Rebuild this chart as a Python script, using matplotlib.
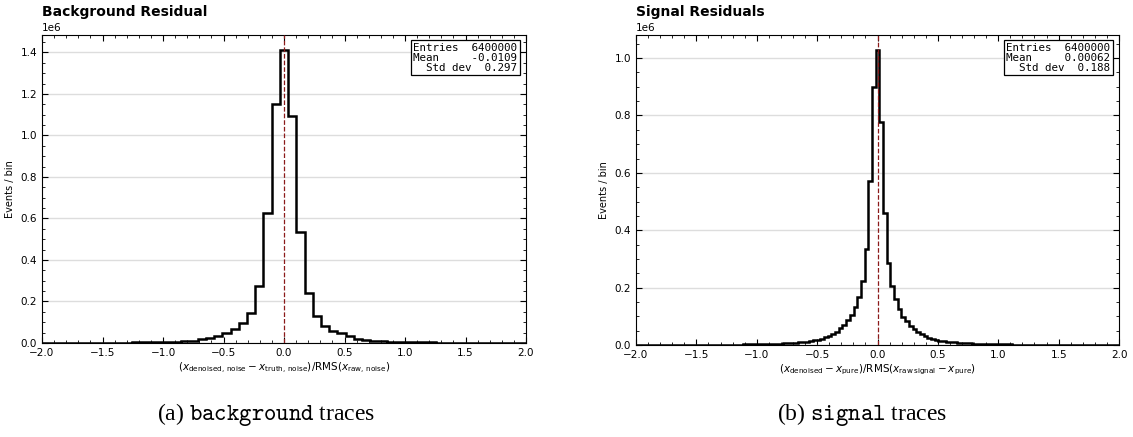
import numpy as np
import matplotlib
matplotlib.use("Agg")
import matplotlib.pyplot as plt
from matplotlib.ticker import AutoMinorLocator, MultipleLocator

# --- data (counts per bin, in millions) ---
# background residual: bins from x=-2 up to the central bin, central bin, then up to x=+2
bg_left = [0.0006, 0.0007, 0.0008, 0.0009, 0.0010, 0.0011, 0.0013, 0.0015, 0.0017, 0.0020,
           0.0023, 0.0027, 0.0032, 0.0038, 0.0045, 0.0055, 0.0070, 0.0090, 0.012, 0.017,
           0.025, 0.036, 0.050, 0.067, 0.094, 0.145, 0.275, 0.626, 1.152]
bg_peak = 1.413
bg_right = [1.093, 0.534, 0.242, 0.132, 0.084, 0.060, 0.046, 0.032, 0.021, 0.014,
            0.010, 0.0078, 0.0062, 0.0050, 0.0041, 0.0034, 0.0029, 0.0025, 0.0021, 0.0018,
            0.0016, 0.0014, 0.0012, 0.0010, 0.0009, 0.0008, 0.0007, 0.0006, 0.0005]

# signal residuals
sig_left = [0.0003, 0.0004, 0.0004, 0.0004, 0.0004, 0.0004, 0.0005, 0.0005, 0.0005, 0.0005,
            0.0006, 0.0006, 0.0006, 0.0007, 0.0007, 0.0007, 0.0008, 0.0008, 0.0009, 0.0009,
            0.0010, 0.0010, 0.0011, 0.0012, 0.0013, 0.0014, 0.0015, 0.0016, 0.0017, 0.0019,
            0.0021, 0.0023, 0.0025, 0.0027, 0.0030, 0.0033, 0.0037, 0.0041, 0.0046, 0.0051,
            0.0057, 0.0064, 0.0072, 0.0082, 0.0093, 0.0105, 0.012, 0.014, 0.016, 0.019,
            0.022, 0.027, 0.031, 0.038, 0.046, 0.058, 0.070, 0.087, 0.104, 0.131,
            0.169, 0.224, 0.334, 0.570, 0.898]
sig_peak = 1.029
sig_right = [0.778, 0.460, 0.287, 0.206, 0.159, 0.125, 0.099, 0.083, 0.067, 0.055,
             0.046, 0.038, 0.031, 0.026, 0.022, 0.018, 0.0155, 0.0135, 0.0115, 0.0100,
             0.0088, 0.0078, 0.0069, 0.0061, 0.0054, 0.0048, 0.0043, 0.0039, 0.0035, 0.0031,
             0.0028, 0.0026, 0.0024, 0.0022, 0.0020, 0.0018, 0.0016, 0.0015, 0.0014, 0.0013,
             0.0012, 0.0011, 0.0010, 0.0010, 0.0009, 0.0009, 0.0008, 0.0008, 0.0007, 0.0007,
             0.0007, 0.0006, 0.0006, 0.0006, 0.0005, 0.0005, 0.0005, 0.0005, 0.0004, 0.0004,
             0.0004, 0.0004, 0.0004, 0.0003, 0.0003]

x_range = (-2.0, 2.0)

titles = ["Background Residual", "Signal Residuals"]
stats_text = ["Entries  6400000\nMean     -0.0109\nStd dev  0.297",
              "Entries  6400000\nMean     0.00062\nStd dev  0.188"]
xlabels = [r"$(x_{\rm denoised,\,noise} - x_{\rm truth,\,noise})/\mathrm{RMS}(x_{\rm raw,\,noise})$",
           r"$(x_{\rm denoised} - x_{\rm pure})/\mathrm{RMS}(x_{\rm raw\,signal} - x_{\rm pure})$"]
captions = [("(a) ", "background", " traces"), ("(b) ", "signal", " traces")]

W, H = 1133, 437
fig = plt.figure(figsize=(W / 100, H / 100), dpi=100)

# axes boxes in pixels: left, top, right, bottom
boxes = [(42, 35, 526, 343), (636, 35, 1119, 345)]
cap_centers = [266, 862]

datasets = [(bg_left, bg_peak, bg_right), (sig_left, sig_peak, sig_right)]

for i, (left, peak, right) in enumerate(datasets):
    x0, y0, x1, y1 = boxes[i]
    ax = fig.add_axes([x0 / W, 1 - y1 / H, (x1 - x0) / W, (y1 - y0) / H])

    counts = np.array(left + [peak] + right) * 1e6
    edges = np.linspace(x_range[0], x_range[1], len(counts) + 1)

    ax.stairs(counts, edges, color="black", linewidth=1.8, baseline=0, zorder=3)
    ax.axvline(0, color="#8b1a1a", linestyle="--", linewidth=0.9, zorder=4)

    ax.set_xlim(*x_range)
    ax.set_ylim(0, counts.max() * 1.05)
    ax.yaxis.grid(True, color="#dddddd", linewidth=1.0, zorder=0)
    ax.set_axisbelow(True)

    ax.xaxis.set_major_locator(MultipleLocator(0.5))
    ax.xaxis.set_minor_locator(MultipleLocator(0.1))
    ax.yaxis.set_minor_locator(AutoMinorLocator(4))
    ax.tick_params(which="both", direction="in", top=True, right=True, labelsize=7.5)
    ax.tick_params(which="major", length=4, width=0.8)
    ax.tick_params(which="minor", length=2, width=0.6)
    ax.yaxis.get_offset_text().set_fontsize(7.5)

    ax.set_ylabel("Events / bin", fontsize=7)
    ax.set_xlabel(xlabels[i], fontsize=7.5, math_fontfamily="dejavusans", labelpad=2)
    ax.set_title(titles[i], loc="left", fontsize=10, fontweight="bold", pad=14)

    ax.text(0.982, 0.975, stats_text[i], transform=ax.transAxes, ha="right", va="top",
            multialignment="right", family="DejaVu Sans Mono", fontsize=7.8, linespacing=1.0,
            bbox=dict(boxstyle="square,pad=0.25", facecolor="white", edgecolor="black",
                      linewidth=0.9), zorder=5)

    # caption underneath, with the middle word in typewriter font
    pre, tt, post = captions[i]
    fig.text(cap_centers[i] / W, 1 - 414 / H, pre + r"$\mathtt{" + tt + "}$" + post,
             ha="center", va="center", fontsize=17, family="Liberation Serif",
             math_fontfamily="cm")

fig.savefig("out.png", dpi=100)
